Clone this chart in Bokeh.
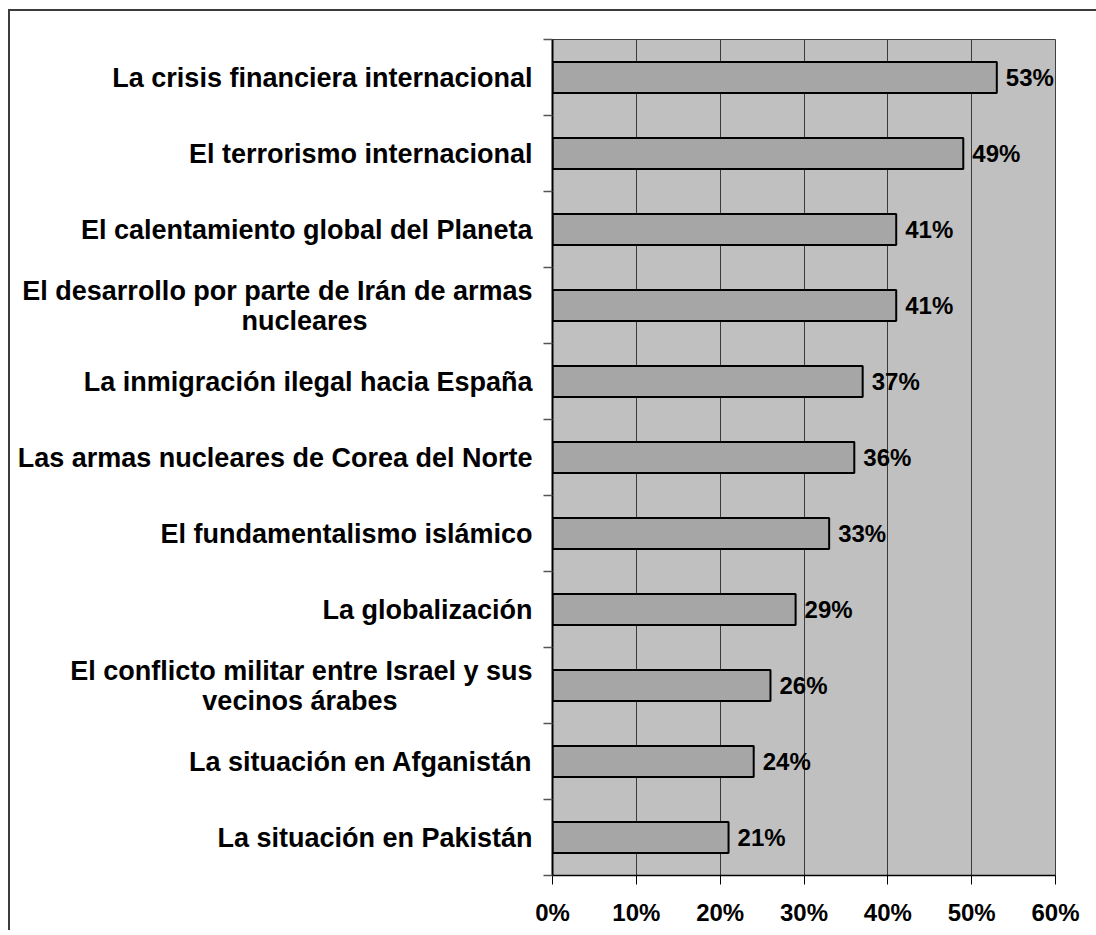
from bokeh.plotting import figure
from bokeh.models import Range1d, FixedTicker, PrintfTickFormatter, ColumnDataSource
from bokeh.core.properties import value
from bokeh.embed import file_html
from bokeh.resources import INLINE

categories = [
    "La crisis financiera internacional",
    "El terrorismo internacional",
    "El calentamiento global del Planeta",
    "El desarrollo por parte de Irán de armas\nnucleares",
    "La inmigración ilegal hacia España",
    "Las armas nucleares de Corea del Norte",
    "El fundamentalismo islámico",
    "La globalización",
    "El conflicto militar entre Israel y sus\nvecinos árabes",
    "La situación en Afganistán",
    "La situación en Pakistán",
]
values = [53, 49, 41, 41, 37, 36, 33, 29, 26, 24, 21]
x_ticks = [0, 10, 20, 30, 40, 50, 60]

n = len(categories)
centers = [2 * (n - 1 - i) + 1 for i in range(n)]
bounds = list(range(0, 2 * n + 1, 2))
labels = [f"{v}%" for v in values]

src = ColumnDataSource(dict(y=centers, v=values, lab=labels))

FONT = "Liberation Sans"
CAT_SIZE = 27

# no-break-space padding so the second line of wrapped names sits centred
# under the first line (axis tick labels align every line to the right)
second_line_pad = {3: 22, 8: 18}


def axis_text(i, t):
    k = second_line_pad.get(i, 0)
    return t + "\u00a0" * k if k else t


p = figure(
    frame_width=503, frame_height=836,
    min_border_left=542, min_border_top=28, min_border_right=41, min_border_bottom=55,
    x_range=Range1d(0, 60), y_range=Range1d(0, 2 * n),
    output_backend="svg", toolbar_location=None,
    background_fill_color="#C0C0C0", border_fill_color="white",
)
p.styles = {"border-left": "2px solid #3c3c3c", "border-top": "2px solid #3c3c3c",
            "margin-left": "8px", "margin-top": "9px"}

p.outline_line_color = "#404040"
p.outline_line_width = 1

p.hbar(y="y", right="v", left=0, height=0.82, source=src,
       fill_color="#A6A6A6", line_color="black", line_width=2)

p.text(x="v", y="y", text="lab", source=src, x_offset=9,
       text_font=value(FONT), text_font_style="bold", text_font_size="24px",
       text_baseline="middle", text_align="left", text_color="black")

# grids
p.ygrid.visible = False
p.xgrid.ticker = FixedTicker(ticks=x_ticks)
p.xgrid.grid_line_color = "#3a3a3a"
p.xgrid.grid_line_width = 1

# x axis
xa = p.xaxis[0]
xa.ticker = FixedTicker(ticks=x_ticks)
xa.formatter = PrintfTickFormatter(format="%d%%")
xa.major_label_text_font = FONT
xa.major_label_text_font_style = "bold"
xa.major_label_text_font_size = "24px"
xa.major_label_text_color = "black"
xa.major_tick_out = 9
xa.major_tick_in = 0
xa.major_tick_line_color = "black"
xa.minor_tick_line_color = None
xa.axis_line_color = "black"
xa.axis_line_width = 1.5
xa.major_label_standoff = 14

# y axis
ya = p.yaxis[0]
ya.ticker = FixedTicker(ticks=centers, minor_ticks=bounds)
ya.major_label_overrides = {c: axis_text(i, t) for i, (c, t) in enumerate(zip(centers, categories))}
ya.major_label_text_font = FONT
ya.major_label_text_font_style = "bold"
ya.major_label_text_font_size = f"{CAT_SIZE}px"
ya.major_label_text_color = "black"
ya.major_label_text_line_height = 1.0
ya.major_tick_line_color = None
ya.major_tick_out = 0
ya.major_tick_in = 0
ya.minor_tick_out = 9
ya.minor_tick_in = 0
ya.minor_tick_line_color = "#555555"
ya.minor_tick_line_width = 1.5
ya.axis_line_color = "black"
ya.axis_line_width = 2
ya.major_label_standoff = 11

open("out.html", "w").write(file_html(p, INLINE))
